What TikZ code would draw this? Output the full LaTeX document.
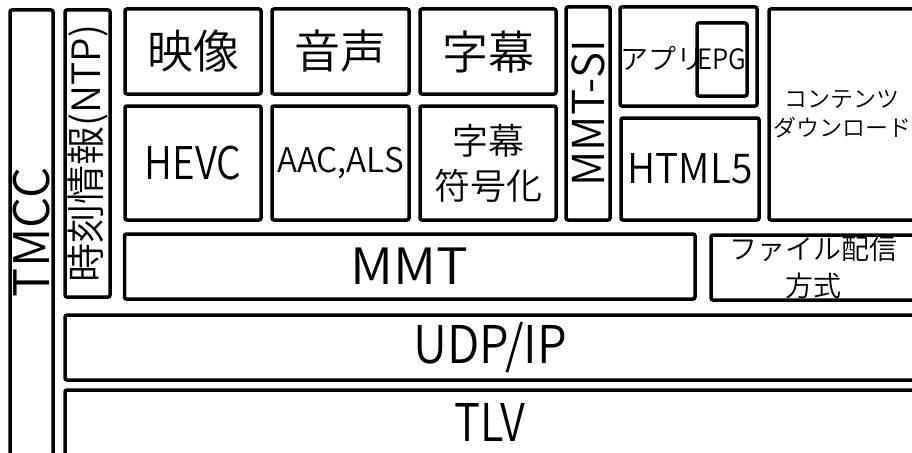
\documentclass[tikz,border=0pt]{standalone}
\usepackage{fontspec}
\IfFontExistsTF{Noto Sans CJK JP DemiLight}
  {\setmainfont{Noto Sans CJK JP DemiLight}}
  {\IfFontExistsTF{Noto Sans CJK JP Light}
    {\setmainfont{Noto Sans CJK JP Light}}
    {\setmainfont{Noto Sans CJK JP}}}
\newcommand{\fsz}[2]{\fontsize{#1}{#2}\selectfont}
\newcommand{\cx}[2]{\scalebox{#1}[1]{#2}}
\tikzset{
  box/.style={draw=black, line width=3.5pt, rounded corners=2pt, inner sep=0pt, align=center, fill=white},
  vbox/.style={box, rotate=90},
  txt/.style={inner sep=0pt, align=center}
}
\begin{document}
\begin{tikzpicture}[x=1pt,y=-1pt]
\useasboundingbox (0,0) rectangle (912,452);
\fill[white] (0,0) rectangle (912,452);
\clip (0,0) rectangle (912,452);
% left vertical boxes
\node[vbox, minimum width=445pt, minimum height=43pt, font=\fsz{49}{55}] (tmcc) at (31.5,232.5) {TMCC};
\node[vbox, minimum width=287pt, minimum height=45pt, font=\fsz{39}{44}] (time) at (87.5,153.5) {時刻情報(NTP)};
% top row
\node[box, minimum width=136pt, minimum height=85pt, font=\fsz{46}{50}] (video) at (193,51.5) {映像};
\node[box, minimum width=137pt, minimum height=85pt, font=\fsz{46}{50}] (audio) at (340.5,51.5) {音声};
\node[box, minimum width=136pt, minimum height=85pt, font=\fsz{46}{50}] (sub) at (488,51.5) {字幕};
% second row
\node[box, minimum width=136pt, minimum height=114pt, font=\fsz{45}{50}] (hevc) at (193,163) {\cx{0.86}{HEVC}};
\node[box, minimum width=137pt, minimum height=114pt, font=\fsz{34}{40}] (aac) at (340.5,163) {\cx{0.98}{AAC,ALS}};
\node[box, minimum width=136pt, minimum height=114pt, font=\fsz{36}{45}] (subenc) at (488,163) {字幕\\符号化};
\node[vbox, minimum width=213pt, minimum height=44pt, font=\fsz{44}{50}] (mmtsi) at (588,113.5) {MMT-SI};
% application
\node[box, minimum width=137pt, minimum height=99pt] (app) at (688.5,56.5) {};
\node[txt, anchor=west, font=\fsz{28}{32}] (apptext) at ([xshift=2pt,yshift=-2pt]app.west) {アプリ};
\node[box, minimum width=50pt, minimum height=73pt, font=\fsz{28}{32}] (epg) at (722,59.5) {\cx{0.92}{EPG}};
\node[box, minimum width=138pt, minimum height=102pt, font=\fsz{41}{46}] (html) at (690,169) {\cx{0.95}{HTML5}};
\node[box, minimum width=146pt, minimum height=211pt, font=\fsz{23}{29}] (content) at (842,114.5) {コンテンツ\\ダウンロード};
% transport
\node[box, minimum width=570.5pt, minimum height=65pt, font=\fsz{50}{55}] (mmt) at (409.75,266.5) {\cx{1.07}{MMT}};
\node[box, minimum width=204pt, minimum height=65pt, font=\fsz{28}{37}] (file) at (813,267.5) {ファイル配信\\方式};
\node[box, minimum width=850pt, minimum height=65pt, font=\fsz{52}{58}] (udp) at (490,347.5) {\cx{0.91}{UDP/IP}};
\node[box, minimum width=850pt, minimum height=65pt, font=\fsz{52}{58}] (tlv) at (490,422.5) {\cx{0.84}{TLV}};
\end{tikzpicture}
\end{document}
